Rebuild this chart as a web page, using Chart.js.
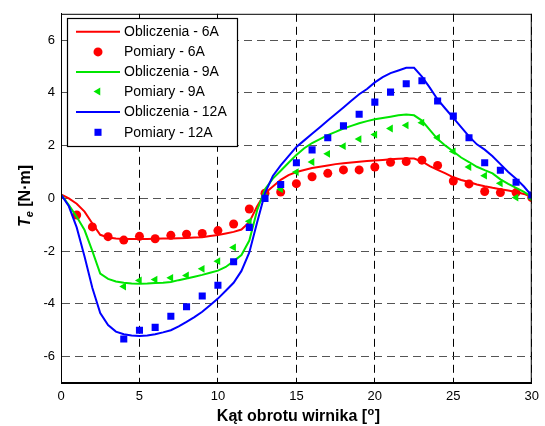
<!DOCTYPE html>
<html>
<head>
<meta charset="utf-8">
<script src="https://cdn.jsdelivr.net/npm/chart.js@4/dist/chart.umd.min.js"></script>
<style>
  html, body { margin: 0; padding: 0; background: #fff; }
  #wrap { width: 545px; height: 426px; }
</style>
</head>
<body>
<div id="wrap"><canvas id="torqueChart" width="545" height="426"></canvas></div>
<script>
// ---------- Data ----------
const calcAngles = [0, 0.5, 1, 1.5, 2, 2.5, 3, 3.5, 4, 4.5, 5, 5.5, 6, 6.5, 7, 7.5, 8, 8.5, 9, 9.5,
  10, 10.5, 11, 11.5, 12, 12.5, 13, 13.5, 14, 14.5, 15, 15.5, 16, 16.5, 17, 17.5, 18, 18.5, 19, 19.5,
  20, 20.5, 21, 21.5, 22, 22.5, 23, 23.5, 24, 24.5, 25, 25.5, 26, 26.5, 27, 27.5, 28, 28.5, 29, 29.5, 30];

const calc6A = [0.15, 0.0, -0.2, -0.5, -0.95, -1.38, -1.48, -1.52, -1.54, -1.54, -1.54, -1.54, -1.53, -1.52, -1.52, -1.51, -1.5, -1.48, -1.47, -1.43,
  -1.39, -1.33, -1.27, -1.18, -0.9, -0.3, 0.2, 0.45, 0.7, 0.88, 1.0, 1.08, 1.15, 1.2, 1.25, 1.3, 1.33, 1.36, 1.39, 1.42,
  1.44, 1.46, 1.48, 1.5, 1.51, 1.51, 1.4, 1.22, 1.08, 0.95, 0.8, 0.7, 0.62, 0.53, 0.46, 0.4, 0.35, 0.3, 0.24, 0.17, 0.05];

const calc9A = [0.15, -0.25, -0.7, -1.2, -2.0, -2.85, -3.05, -3.15, -3.2, -3.23, -3.24, -3.23, -3.21, -3.2, -3.17, -3.1, -3.04, -2.97, -2.9, -2.82,
  -2.74, -2.6, -2.38, -2.15, -1.6, -0.45, 0.35, 0.75, 1.05, 1.35, 1.65, 1.9, 2.1, 2.25, 2.4, 2.52, 2.65, 2.75, 2.85, 2.93,
  3.0, 3.05, 3.1, 3.15, 3.18, 3.15, 2.95, 2.6, 2.25, 2.0, 1.78, 1.55, 1.38, 1.2, 1.07, 0.95, 0.72, 0.55, 0.4, 0.25, 0.05];

const calc12A = [0.15, -0.3, -1.1, -2.2, -3.4, -4.35, -4.8, -5.05, -5.15, -5.2, -5.22, -5.2, -5.15, -5.08, -5.0, -4.85, -4.68, -4.5, -4.3, -4.05,
  -3.8, -3.5, -3.2, -2.75, -2.05, -0.9, 0.2, 0.85, 1.25, 1.6, 1.95, 2.2, 2.45, 2.7, 2.95, 3.2, 3.45, 3.7, 3.95, 4.15,
  4.4, 4.6, 4.75, 4.85, 4.95, 4.95, 4.62, 4.2, 3.75, 3.4, 3.05, 2.7, 2.35, 2.05, 1.85, 1.6, 1.3, 1.0, 0.75, 0.45, 0.1];

const meas6AAngles = [1, 2, 3, 4, 5, 6, 7, 8, 9, 10, 11, 12, 13, 14, 15, 16, 17, 18, 19, 20, 21, 22, 23, 24, 25, 26, 27, 28, 29, 30];
const meas6A = [-0.63, -1.08, -1.45, -1.58, -1.44, -1.53, -1.40, -1.36, -1.33, -1.22, -0.97, -0.4, 0.2, 0.24, 0.56, 0.82, 0.95, 1.08, 1.08, 1.19,
  1.37, 1.40, 1.45, 1.25, 0.66, 0.55, 0.26, 0.22, 0.22, 0.03];

const measAngles = [4, 5, 6, 7, 8, 9, 10, 11, 12, 13, 14, 15, 16, 17, 18, 19, 20, 21, 22, 23, 24, 25, 26, 27, 28, 29, 30];
const meas9A = [-3.34, -3.11, -3.08, -3.01, -2.92, -2.67, -2.38, -1.86, -0.87, 0.05, 0.35, 1.0, 1.38, 1.69, 1.98, 2.25, 2.42, 2.65, 2.77, 2.87,
  2.30, 1.78, 1.19, 0.86, 0.57, 0.03, 0.0];
const meas12A = [-5.33, -5.0, -4.89, -4.47, -4.11, -3.70, -3.29, -2.40, -1.10, 0.0, 0.53, 1.35, 1.84, 2.30, 2.75, 3.19, 3.65, 4.03, 4.35, 4.46,
  3.69, 3.12, 2.30, 1.35, 1.07, 0.61, 0.13];

const xTicks = [0, 5, 10, 15, 20, 25, 30];
const yTicks = [-6, -4, -2, 0, 2, 4, 6];

const RED = '#ff0000', GREEN = '#00e600', BLUE = '#0000ff';
const FONT = '"Liberation Sans", Arial, sans-serif';

// ---------- Helpers ----------
function toPoints(xs, ys) {
  return xs.map((x, i) => ({ x: x, y: ys[i] }));
}

function calcSet(label, ys, color, order) {
  return {
    label, data: toPoints(calcAngles, ys), borderColor: color, backgroundColor: color,
    borderWidth: 2, pointRadius: 0, showLine: true, tension: 0, order
  };
}

function measSet(label, xs, ys, color, style, radius, rotation, order) {
  return {
    label, data: toPoints(xs, ys), borderColor: color, backgroundColor: color,
    showLine: false, pointStyle: style, pointRadius: radius, pointRotation: rotation,
    pointBorderWidth: 0, order
  };
}

// ---------- Legend, frame and axis titles drawn on the canvas ----------
const decorPlugin = {
  id: 'decor',
  afterDatasetsDraw(chart) {
    const { ctx, chartArea: a } = chart;
    ctx.save();

    // plot frame
    ctx.strokeStyle = '#000';
    ctx.lineWidth = 1;
    ctx.strokeRect(a.left + 0.5, a.top + 0.5, a.right - a.left - 1, a.bottom - a.top - 1);

    // legend box
    const bx = 67.5, by = 18.5, bw = 170, bh = 128;
    ctx.fillStyle = '#fff';
    ctx.fillRect(bx, by, bw, bh);
    ctx.strokeStyle = '#000';
    ctx.lineWidth = 1.2;
    ctx.strokeRect(bx, by, bw, bh);

    const rowY = [31.7, 51.9, 72.1, 91.5, 111.9, 132.3];
    ctx.font = '14px ' + FONT;
    ctx.textBaseline = 'middle';
    ctx.textAlign = 'left';
    chart.data.datasets.forEach((ds, i) => {
      const y = rowY[i];
      if (ds.showLine) {
        ctx.strokeStyle = ds.borderColor;
        ctx.lineWidth = 2;
        ctx.beginPath();
        ctx.moveTo(76, y);
        ctx.lineTo(120, y);
        ctx.stroke();
      } else {
        ctx.fillStyle = ds.backgroundColor;
        ctx.strokeStyle = ds.borderColor;
        Chart.helpers.drawPoint(ctx, {
          pointStyle: ds.pointStyle, rotation: ds.pointRotation || 0,
          radius: ds.pointRadius, borderWidth: 0
        }, 98, y);
      }
      ctx.fillStyle = '#000';
      ctx.fillText(ds.label, 124, y + 0.5);
    });

    // x axis title with superscript degree
    const xt1 = 'Kąt obrotu wirnika [', xt2 = 'o', xt3 = ']';
    ctx.font = 'bold 16px ' + FONT;
    const w1 = ctx.measureText(xt1).width, w3 = ctx.measureText(xt3).width;
    ctx.font = 'bold 11px ' + FONT;
    const w2 = ctx.measureText(xt2).width;
    let x0 = 298 - (w1 + w2 + w3) / 2;
    const yb = 421;
    ctx.textBaseline = 'alphabetic';
    ctx.fillStyle = '#000';
    ctx.font = 'bold 16px ' + FONT;
    ctx.fillText(xt1, x0, yb);
    ctx.font = 'bold 11px ' + FONT;
    ctx.fillText(xt2, x0 + w1 + 0.5, yb - 6);
    ctx.font = 'bold 16px ' + FONT;
    ctx.fillText(xt3, x0 + w1 + w2 + 1, yb);

    // y axis title T_e [N·m]
    ctx.translate(30, 196);
    ctx.rotate(-Math.PI / 2);
    const p1 = 'T', p2 = 'e', p3 = ' [N·m]';
    ctx.font = 'italic bold 16px ' + FONT;
    const q1 = ctx.measureText(p1).width;
    ctx.font = 'italic bold 11px ' + FONT;
    const q2 = ctx.measureText(p2).width;
    ctx.font = 'bold 16px ' + FONT;
    const q3 = ctx.measureText(p3).width;
    let s = -(q1 + q2 + q3) / 2;
    ctx.font = 'italic bold 16px ' + FONT;
    ctx.fillText(p1, s, 0);
    ctx.font = 'italic bold 11px ' + FONT;
    ctx.fillText(p2, s + q1, 3);
    ctx.font = 'bold 16px ' + FONT;
    ctx.fillText(p3, s + q1 + q2, 0);

    ctx.restore();
  }
};

// ---------- Chart ----------
const ctx = document.getElementById('torqueChart').getContext('2d');
window.torqueChartInstance = new Chart(ctx, {
  type: 'line',
  data: {
    datasets: [
      calcSet('Obliczenia - 6A', calc6A, RED, 6),
      measSet('Pomiary - 6A', meas6AAngles, meas6A, RED, 'circle', 4.5, 0, 5),
      calcSet('Obliczenia - 9A', calc9A, GREEN, 4),
      measSet('Pomiary - 9A', measAngles, meas9A, GREEN, 'triangle', 4.5, -90, 3),
      calcSet('Obliczenia - 12A', calc12A, BLUE, 2),
      measSet('Pomiary - 12A', measAngles, meas12A, BLUE, 'rect', 5, 0, 1)
    ]
  },
  options: {
    responsive: false,
    animation: false,
    devicePixelRatio: 1,
    layout: { padding: { left: 0, right: 7, top: 12, bottom: 0 } },
    plugins: { legend: { display: false }, tooltip: { enabled: false } },
    scales: {
      x: {
        type: 'linear', min: 0, max: 30,
        afterBuildTicks: s => { s.ticks = xTicks.map(v => ({ value: v })); },
        afterFit: s => { s.height = 43; },
        ticks: { color: '#000', font: { family: FONT, size: 13 }, padding: 6, maxRotation: 0 },
        grid: { color: '#000', lineWidth: 1, drawTicks: false },
        border: { display: true, color: '#000', dash: [8, 5] }
      },
      y: {
        type: 'linear', min: -7, max: 7,
        afterBuildTicks: s => { s.ticks = yTicks.map(v => ({ value: v })); },
        afterFit: s => { s.width = 61; },
        ticks: { color: '#000', font: { family: FONT, size: 13 }, padding: 6 },
        grid: { color: '#555', lineWidth: 1, drawTicks: false },
        border: { display: true, color: '#000', dash: [8, 5] }
      }
    }
  },
  plugins: [decorPlugin]
});
</script>
</body>
</html>
